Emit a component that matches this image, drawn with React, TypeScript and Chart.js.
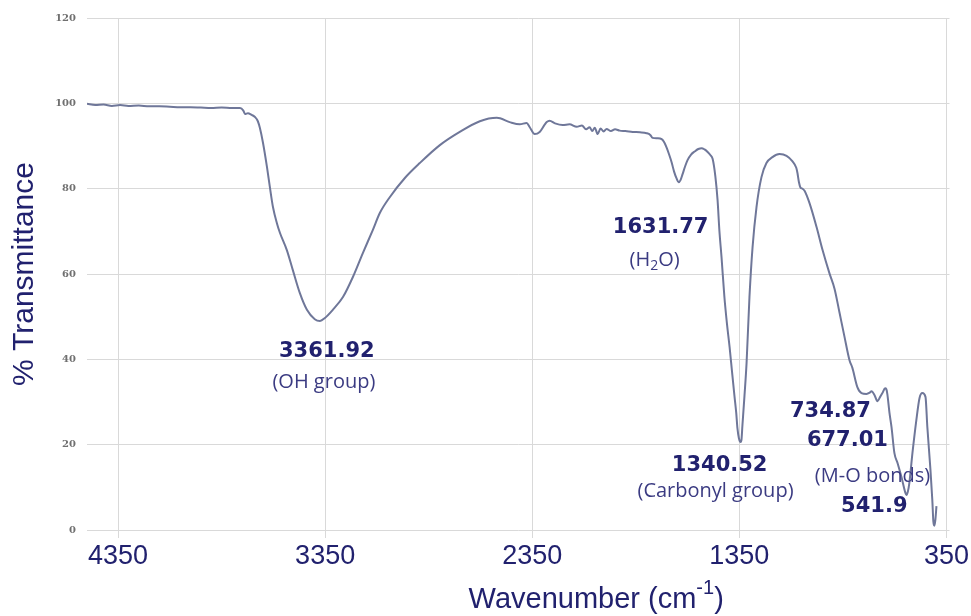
import React, { useEffect, useRef } from "react";
import { Chart, registerables } from "chart.js";

Chart.register(...registerables);

// ---- data ----
const wavenumbers: number[] = [
  4500, 4460, 4420, 4380, 4340, 4300, 4250, 4200, 4150, 4100,
  4050, 4000, 3950, 3900, 3850, 3800, 3761, 3745, 3737, 3723,
  3705, 3689, 3675, 3665, 3650, 3631, 3617, 3602, 3583, 3568,
  3535, 3506, 3472, 3438, 3400, 3375, 3351, 3313, 3264, 3216,
  3168, 3120, 3086, 3038, 2965, 2893, 2796, 2700, 2603, 2521,
  2459, 2410, 2377, 2362, 2338, 2314, 2290, 2280, 2266, 2240,
  2203, 2170, 2135, 2110, 2090, 2073, 2060, 2048, 2034, 2020,
  2005, 1991, 1970, 1950, 1928, 1900, 1865, 1830, 1798, 1780,
  1769, 1745, 1725, 1712, 1701, 1689, 1677, 1665, 1653, 1643,
  1634, 1624, 1612, 1600, 1583, 1566, 1548, 1532, 1518, 1503,
  1490, 1479, 1466, 1455, 1446, 1436, 1422, 1410, 1397, 1385,
  1373, 1365, 1359, 1352, 1344, 1340, 1335, 1325, 1315, 1301,
  1286, 1267, 1243, 1219, 1190, 1156, 1122, 1093, 1075, 1069,
  1062, 1055, 1045, 1035, 1011, 977, 948, 915, 890, 866,
  843, 818, 804, 780, 760, 736, 720, 712, 697, 683,
  670, 659, 646, 640, 635, 625, 615, 601, 586, 567,
  548, 543, 536, 529, 514, 495, 480, 466, 451, 442,
  427, 418, 413, 408, 403, 398,
];

const transmittance: number[] = [
  99.9, 99.6, 99.7, 99.4, 99.6, 99.4, 99.5, 99.3, 99.3, 99.2,
  99.1, 99.1, 99.0, 98.9, 99.0, 98.9, 98.9, 98.3, 97.5, 97.7,
  97.3, 96.8, 95.8, 94.2, 90.7, 85.1, 80.4, 75.7, 71.9, 69.6,
  65.6, 60.9, 55.5, 51.6, 49.4, 49.0, 49.7, 51.6, 54.6, 59.3,
  64.9, 70.3, 74.3, 78.0, 82.5, 86.0, 90.2, 93.3, 95.8, 96.6,
  95.6, 95.1, 95.4, 94.4, 92.8, 93.3, 95.0, 95.6, 95.9, 95.3,
  94.9, 95.1, 94.5, 94.8, 93.9, 94.4, 93.5, 94.3, 92.8, 94.1,
  93.4, 94.0, 93.5, 93.9, 93.6, 93.5, 93.3, 93.2, 93.0, 92.6,
  91.9, 91.8, 91.6, 90.8, 89.6, 88.0, 86.2, 84.0, 82.4, 81.5,
  82.0, 83.4, 85.2, 86.7, 88.0, 88.7, 89.3, 89.5, 89.2, 88.6,
  87.9, 87.0, 83.0, 77.3, 70.0, 64.0, 54.6, 48.5, 42.9, 37.0,
  31.2, 27.5, 23.8, 21.5, 20.6, 21.0, 24.5, 31.5, 39.1, 54.6,
  66.3, 75.7, 82.7, 86.0, 87.4, 88.1, 87.7, 86.4, 84.9, 83.6,
  81.5, 80.3, 80.0, 79.5, 76.6, 71.0, 65.6, 60.2, 56.5, 50.9,
  45.5, 39.8, 38.0, 33.5, 32.1, 31.9, 32.2, 32.5, 31.6, 30.2,
  31.2, 32.1, 33.2, 33.0, 31.8, 27.5, 24.1, 18.0, 15.7, 12.4,
  8.7, 8.2, 9.0, 11.0, 18.0, 25.8, 30.9, 32.1, 31.2, 24.1,
  14.1, 7.0, 2.0, 1.0, 2.5, 5.6,
];

const xTickValues: number[] = [4350, 3350, 2350, 1350, 350];
const yTickStep = 20;

type Seg = { text: string; sub?: boolean; sup?: boolean };
type Annotation = { wn: number; t: number; segs: Seg[]; kind: "peak" | "note" };

const annotations: Annotation[] = [
  { wn: 3342, t: 41.9, segs: [{ text: "3361.92" }], kind: "peak" },
  { wn: 3356, t: 34.7, segs: [{ text: "(OH group)" }], kind: "note" },
  { wn: 1730, t: 71.0, segs: [{ text: "1631.77" }], kind: "peak" },
  { wn: 1759, t: 63.3, segs: [{ text: "(H" }, { text: "2", sub: true }, { text: "O)" }], kind: "note" },
  { wn: 1445, t: 15.0, segs: [{ text: "1340.52" }], kind: "peak" },
  { wn: 1465, t: 9.1, segs: [{ text: "(Carbonyl group)" }], kind: "note" },
  { wn: 910, t: 27.7, segs: [{ text: "734.87" }], kind: "peak" },
  { wn: 828, t: 20.9, segs: [{ text: "677.01" }], kind: "peak" },
  { wn: 707, t: 12.7, segs: [{ text: "(M-O bonds)" }], kind: "note" },
  { wn: 698, t: 5.6, segs: [{ text: "541.9" }], kind: "peak" },
];

const NAVY = "#21216e";
const NOTE = "#3b3b82";
const LINE = "#6f7799";
const GRID = "#d9d9d9";

function drawRich(
  ctx: CanvasRenderingContext2D,
  segs: Seg[],
  cx: number,
  cy: number,
  size: number,
  weight: string,
  family: string,
  color: string
) {
  const fontFor = (s: Seg) =>
    `${weight} ${s.sub || s.sup ? Math.round(size * 0.68) : size}px ${family}`;
  let total = 0;
  const widths = segs.map((s) => {
    ctx.font = fontFor(s);
    const w = ctx.measureText(s.text).width;
    total += w;
    return w;
  });
  let x = cx - total / 2;
  ctx.fillStyle = color;
  ctx.textAlign = "left";
  ctx.textBaseline = "middle";
  segs.forEach((s, i) => {
    ctx.font = fontFor(s);
    let y = cy;
    if (s.sub) y = cy + size * 0.28;
    if (s.sup) y = cy - size * 0.38;
    ctx.fillText(s.text, x, y);
    x += widths[i];
  });
}

const overlayPlugin = {
  id: "irOverlay",
  afterDraw(chart: any) {
    const ctx: CanvasRenderingContext2D = chart.ctx;
    const xs = chart.scales.x;
    const ys = chart.scales.y;
    ctx.save();
    annotations.forEach((a) => {
      const px = xs.getPixelForValue(a.wn);
      const py = ys.getPixelForValue(a.t);
      if (a.kind === "peak") {
        drawRich(ctx, a.segs, px, py, 21, "bold", "'DejaVu Sans'", NAVY);
      } else {
        drawRich(ctx, a.segs, px, py, 20, "normal", "'Open Sans'", NOTE);
      }
    });
    // x axis title with superscript
    const w = chart.width;
    drawRich(
      ctx,
      [{ text: "Wavenumber (cm" }, { text: "-1", sup: true }, { text: ")" }],
      w * 0.614,
      600,
      29,
      "normal",
      "'Liberation Sans'",
      NAVY
    );
    ctx.restore();
  },
};

export default function App() {
  const ref = useRef<HTMLCanvasElement | null>(null);
  useEffect(() => {
    if (!ref.current) return;
    const points = wavenumbers.map((w, i) => ({ x: w, y: transmittance[i] }));
    const chart = new Chart(ref.current, {
      type: "line",
      data: {
        datasets: [
          {
            data: points,
            borderColor: LINE,
            borderWidth: 2,
            pointRadius: 0,
            cubicInterpolationMode: "monotone",
            fill: false,
          },
        ],
      },
      options: {
        animation: false,
        responsive: false,
        devicePixelRatio: 1,
        layout: { padding: { top: 18, right: 21, left: 0, bottom: 0 } },
        plugins: {
          legend: { display: false },
          tooltip: { enabled: false },
          title: { display: false },
        },
        scales: {
          x: {
            type: "linear",
            reverse: true,
            min: 335,
            max: 4500,
            afterBuildTicks: (scale: any) => {
              scale.ticks = xTickValues.map((v) => ({ value: v }));
            },
            afterFit: (scale: any) => {
              scale.height = 86;
            },
            grid: { color: GRID, lineWidth: 1, tickLength: 8, drawTicks: true },
            border: { display: false },
            ticks: {
              color: NAVY,
              font: { family: "'Liberation Sans'", size: 27 },
              padding: 2,
              maxRotation: 0,
              autoSkip: false,
              callback: (v: any) => String(v),
            },
            title: { display: false },
          },
          y: {
            type: "linear",
            min: 0,
            max: 120,
            afterFit: (scale: any) => {
              scale.width = 87;
            },
            grid: { color: GRID, lineWidth: 1, drawTicks: false },
            border: { display: false },
            ticks: {
              stepSize: yTickStep,
              color: "#707070",
              font: { family: "'DejaVu Serif'", size: 10, weight: "bold" },
              padding: 11,
            },
            title: {
              display: true,
              text: "% Transmittance",
              color: NAVY,
              font: { family: "'Liberation Sans'", size: 30 },
              padding: { top: 7, bottom: 0 },
            },
          },
        },
      },
      plugins: [overlayPlugin],
    });
    return () => chart.destroy();
  }, []);

  return (
    <div style={{ position: "fixed", left: 0, top: 0, width: 971, height: 616, background: "#fff" }}>
      <canvas ref={ref} width={971} height={616} style={{ width: 971, height: 616, display: "block" }} />
    </div>
  );
}
